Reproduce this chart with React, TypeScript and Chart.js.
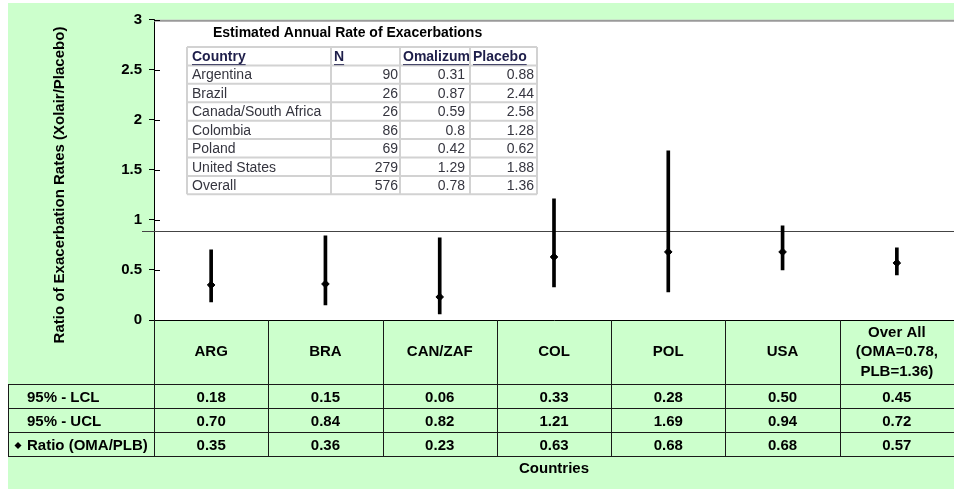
import React, { useEffect, useRef } from 'react';
import { Chart, registerables } from 'chart.js';

Chart.register(...registerables);

// ---------- data ----------
const CATEGORY_LABELS: (string | string[])[] = [
  'ARG',
  'BRA',
  'CAN/ZAF',
  'COL',
  'POL',
  'USA',
  ['Over All', '(OMA=0.78,', 'PLB=1.36)'],
];
const LCL = [0.18, 0.15, 0.06, 0.33, 0.28, 0.5, 0.45];
const UCL = [0.7, 0.84, 0.82, 1.21, 1.69, 0.94, 0.72];
const RATIO = [0.35, 0.36, 0.23, 0.63, 0.68, 0.68, 0.57];
const ROW_LABELS = ['95% - LCL', '95% - UCL', 'Ratio (OMA/PLB)'];
const REF_VALUE = 0.885;
const Y_MIN = 0;
const Y_MAX = 3;
const Y_STEP = 0.5;

const INSET_TITLE = 'Estimated Annual Rate of Exacerbations';
const INSET_HEADERS = ['Country', 'N', 'Omalizum', 'Placebo'];
const INSET_COUNTRIES = ['Argentina', 'Brazil', 'Canada/South Africa', 'Colombia', 'Poland', 'United States', 'Overall'];
const INSET_N = ['90', '26', '26', '86', '69', '279', '576'];
const INSET_OMA = ['0.31', '0.87', '0.59', '0.8', '0.42', '1.29', '0.78'];
const INSET_PLB = ['0.88', '2.44', '2.58', '1.28', '0.62', '1.88', '1.36'];

const Y_TITLE = 'Ratio of Exacerbation Rates (Xolair/Placebo)';
const X_TITLE = 'Countries';

// ---------- style ----------
const FAMILY = '"Liberation Sans", Arial, Helvetica, sans-serif';
const BOLD15 = `bold 15px ${FAMILY}`;
const GREEN = '#CCFFCC';
const CANVAS_W = 951;
const CANVAS_H = 486;

function diamond(ctx: CanvasRenderingContext2D, x: number, y: number, r: number) {
  ctx.beginPath();
  ctx.moveTo(x, y - r);
  ctx.lineTo(x + r, y);
  ctx.lineTo(x, y + r);
  ctx.lineTo(x - r, y);
  ctx.closePath();
  ctx.fill();
}

const decorPlugin = {
  id: 'decor',
  beforeDraw(chart: any) {
    const { ctx, chartArea: a } = chart;
    ctx.save();
    ctx.fillStyle = '#FFFFFF';
    ctx.fillRect(a.left, a.top, a.right - a.left, a.bottom - a.top);
    ctx.restore();
  },
  beforeDatasetsDraw(chart: any) {
    const { ctx, chartArea: a } = chart;
    const y = chart.scales.y;
    ctx.save();

    // top plot border (gray)
    ctx.fillStyle = '#9A9A9A';
    ctx.fillRect(a.left, a.top, a.right - a.left, 2);

    // inner part of y tick marks
    ctx.strokeStyle = '#000';
    ctx.lineWidth = 1;
    for (let v = Y_MIN; v <= Y_MAX + 1e-9; v += Y_STEP) {
      const py = Math.round(y.getPixelForValue(v)) + 0.5;
      ctx.beginPath();
      ctx.moveTo(a.left, py);
      ctx.lineTo(a.left + 6, py);
      ctx.stroke();
    }

    // reference line
    const ry = Math.round(y.getPixelForValue(REF_VALUE)) + 0.5;
    ctx.strokeStyle = '#444';
    ctx.lineWidth = 1;
    ctx.beginPath();
    ctx.moveTo(a.left - 12, ry);
    ctx.lineTo(a.right, ry);
    ctx.stroke();

    // ---- inset table ----
    const colX = [179, 323, 392, 462, 529];
    const rowTop = 44;
    const rowH = 18.42;
    const nRows = INSET_COUNTRIES.length + 1;

    ctx.fillStyle = '#000';
    ctx.font = `bold 14px ${FAMILY}`;
    ctx.textAlign = 'left';
    ctx.textBaseline = 'middle';
    ctx.fillText(INSET_TITLE, 205, 30);

    ctx.strokeStyle = '#D2D2D2';
    ctx.lineWidth = 2;
    for (let i = 0; i <= nRows; i++) {
      const py = rowTop + i * rowH;
      ctx.beginPath();
      ctx.moveTo(colX[0], py);
      ctx.lineTo(colX[colX.length - 1], py);
      ctx.stroke();
    }
    for (const cx of colX) {
      ctx.beginPath();
      ctx.moveTo(cx, rowTop);
      ctx.lineTo(cx, rowTop + nRows * rowH);
      ctx.stroke();
    }

    // header
    const headerLeft = [184, 326, 395, 465];
    ctx.font = `bold 14px ${FAMILY}`;
    ctx.fillStyle = '#1E1E4A';
    ctx.strokeStyle = '#1E1E4A';
    ctx.lineWidth = 1;
    INSET_HEADERS.forEach((h, i) => {
      ctx.save();
      ctx.beginPath();
      ctx.rect(colX[i] + 1, rowTop, colX[i + 1] - colX[i] - 2, rowH);
      ctx.clip();
      const cy = rowTop + rowH / 2 + 1;
      ctx.fillText(h, headerLeft[i], cy);
      const w = ctx.measureText(h).width;
      ctx.beginPath();
      ctx.moveTo(headerLeft[i], cy + 7.5);
      ctx.lineTo(headerLeft[i] + w, cy + 7.5);
      ctx.stroke();
      ctx.restore();
    });

    // body
    ctx.font = `14px ${FAMILY}`;
    ctx.fillStyle = '#35353F';
    INSET_COUNTRIES.forEach((c, r) => {
      const cy = rowTop + (r + 1) * rowH + rowH / 2 + 1;
      ctx.textAlign = 'left';
      ctx.fillText(c, 184, cy);
      ctx.textAlign = 'right';
      ctx.fillText(INSET_N[r], 390, cy);
      ctx.fillText(INSET_OMA[r], 457, cy);
      ctx.fillText(INSET_PLB[r], 526, cy);
    });

    ctx.restore();
  },
  afterDraw(chart: any) {
    const { ctx, chartArea: a } = chart;
    const x = chart.scales.x;
    const n = CATEGORY_LABELS.length;
    const colW = (a.right - a.left) / n;
    const rows = [381, 405, 429, 453];

    ctx.save();
    ctx.strokeStyle = '#1A1A1A';
    ctx.lineWidth = 1;

    // vertical column lines
    for (let i = 0; i <= n; i++) {
      const px = Math.round(a.left + i * colW) + 0.5;
      ctx.beginPath();
      ctx.moveTo(px, a.bottom);
      ctx.lineTo(px, rows[rows.length - 1]);
      ctx.stroke();
    }
    // horizontal row lines
    for (const ry of rows) {
      ctx.beginPath();
      ctx.moveTo(0, ry + 0.5);
      ctx.lineTo(a.right, ry + 0.5);
      ctx.stroke();
    }
    // left border of the row-label column
    ctx.beginPath();
    ctx.moveTo(0.5, rows[0]);
    ctx.lineTo(0.5, rows[rows.length - 1]);
    ctx.stroke();

    // row labels
    ctx.fillStyle = '#000';
    ctx.font = BOLD15;
    ctx.textBaseline = 'middle';
    ctx.textAlign = 'left';
    ROW_LABELS.forEach((lab, r) => {
      const cy = (rows[r] + rows[r + 1]) / 2 + 1.5;
      ctx.fillText(lab, 19, cy);
      if (r === 2) diamond(ctx, 10, cy, 3.5);
    });

    // values
    ctx.textAlign = 'center';
    const series = [LCL, UCL, RATIO];
    series.forEach((vals, r) => {
      const cy = (rows[r] + rows[r + 1]) / 2 + 1.5;
      vals.forEach((v, i) => {
        ctx.fillText(v.toFixed(2), x.getPixelForValue(i), cy);
      });
    });

    // x title
    ctx.fillText(X_TITLE, (a.left + a.right) / 2, 466);

    // y title
    ctx.save();
    ctx.translate(52, 182);
    ctx.rotate(-Math.PI / 2);
    ctx.fillText(Y_TITLE, 0, 0);
    ctx.restore();

    ctx.restore();
  },
};

export default function App() {
  const canvasRef = useRef<HTMLCanvasElement | null>(null);

  useEffect(() => {
    if (!canvasRef.current) return;
    const tickFont = { family: FAMILY, size: 15, weight: 'bold' as const, lineHeight: 1.3 };
    const chart = new Chart(canvasRef.current, {
      type: 'bar',
      data: {
        labels: CATEGORY_LABELS as any,
        datasets: [
          {
            type: 'bar',
            label: '95% CI',
            data: LCL.map((l, i) => [l, UCL[i]]) as any,
            backgroundColor: '#000',
            borderWidth: 0,
            barThickness: 3,
            order: 2,
          },
          {
            type: 'line',
            label: 'Ratio (OMA/PLB)',
            data: RATIO,
            showLine: false,
            pointStyle: 'rectRot',
            pointRadius: 3.8,
            pointBackgroundColor: '#000',
            pointBorderColor: '#000',
            pointBorderWidth: 1,
            order: 1,
          } as any,
        ],
      },
      options: {
        responsive: false,
        animation: false,
        layout: { padding: { top: 12, left: 0, right: 0, bottom: 0 } },
        plugins: {
          legend: { display: false },
          tooltip: { enabled: false },
          title: { display: false },
        },
        scales: {
          x: {
            type: 'category',
            offset: true,
            grid: { display: false, drawTicks: false },
            border: { display: true, color: '#000', width: 1 },
            ticks: {
              autoSkip: false,
              maxRotation: 0,
              minRotation: 0,
              padding: 12.5,
              crossAlign: 'center',
              color: '#000',
              font: tickFont,
            },
            afterFit: (s: any) => {
              s.height = 169;
            },
          },
          y: {
            min: Y_MIN,
            max: Y_MAX,
            ticks: {
              stepSize: Y_STEP,
              padding: 7,
              color: '#000',
              font: tickFont,
              callback: (v: any) => String(Number(v)),
            },
            grid: { drawOnChartArea: false, drawTicks: true, tickLength: 5, color: '#000' },
            border: { display: true, color: '#000', width: 1 },
            afterFit: (s: any) => {
              s.width = 146;
            },
          },
        },
      },
      plugins: [decorPlugin],
    });
    return () => chart.destroy();
  }, []);

  return (
    <div
      style={{
        position: 'absolute',
        left: 8,
        top: 3,
        width: 946,
        height: CANVAS_H,
        overflow: 'hidden',
        background: GREEN,
      }}
    >
      <canvas
        ref={canvasRef}
        width={CANVAS_W}
        height={CANVAS_H}
        style={{ display: 'block', width: CANVAS_W, height: CANVAS_H }}
      />
    </div>
  );
}
